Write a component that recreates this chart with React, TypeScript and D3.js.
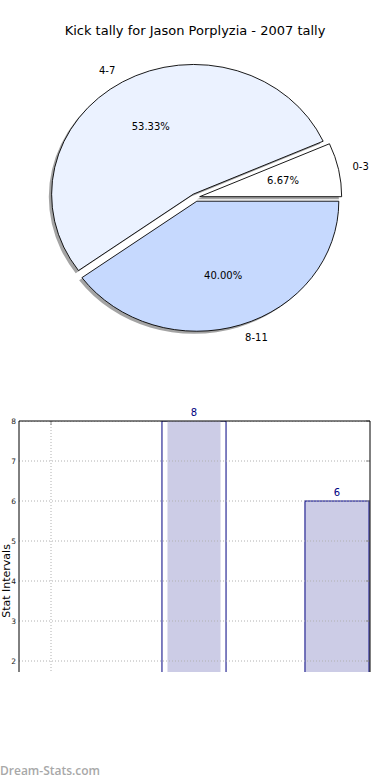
import React from 'react'
import * as d3 from 'd3'

// pie data
const sliceLabels = ['0-3', '4-7', '8-11']
const sliceValues = [1, 8, 6]
const sliceColors = ['#ffffff', '#ebf2ff', '#c6d9fe']

// bar data (first category value hidden below the visible part)
const barCats = [0, 1, 2]
const barValues = [1, 8, 6]
const yTicks = [2, 3, 4, 5, 6, 7, 8]
const xGridTicks = [0]

const font = 'DejaVu Sans, sans-serif'

const App = () => {
  const cx = 195.5
  const cy = 197.5
  const rx = 142
  const ry = 130
  const explode = 0.03

  const total = d3.sum(sliceValues)
  const pie = d3.pie<number>().sort(null).startAngle(Math.PI / 2).endAngle(Math.PI / 2 - 2 * Math.PI)
  const arcs = pie(sliceValues)
  const arc = d3.arc<any>().innerRadius(0).outerRadius(1)

  // bar chart scales
  const x = d3.scaleLinear().domain([0, 2]).range([51, 337])
  const y = d3.scaleLinear().domain([2, 8]).range([661, 421])
  const left = 19
  const right = 370
  const top = 421
  const bottom = 672
  const bw = x(0.448) - x(0)
  const maxIdx = barValues.indexOf(d3.max(barValues) as number)

  return (
    <svg width={390} height={780} style={{ position: 'absolute', left: 0, top: 0, background: '#fff' }}>
      <text x={195} y={35} textAnchor="middle" fontFamily={font} fontSize={13} fill="#000">
        Kick tally for Jason Porplyzia - 2007 tally
      </text>

      {/* shadows */}
      {arcs.map((a, i) => {
        const mid = (a.startAngle + a.endAngle) / 2
        const ox = cx + explode * rx * Math.sin(mid) - 2.8
        const oy = cy - explode * ry * Math.cos(mid) + 2.6
        return (
          <path key={'s' + i} d={arc(a) as string}
            transform={`translate(${ox},${oy}) scale(${rx},${ry})`}
            fill="#4a4a4a" opacity={0.5} />
        )
      })}
      {arcs.map((a, i) => {
        const mid = (a.startAngle + a.endAngle) / 2
        const ox = cx + explode * rx * Math.sin(mid)
        const oy = cy - explode * ry * Math.cos(mid)
        return (
          <path key={'p' + i} d={arc(a) as string}
            transform={`translate(${ox},${oy}) scale(${rx},${ry})`}
            fill={sliceColors[i]} stroke="#000" strokeWidth={0.9}
            vectorEffect="non-scaling-stroke" strokeLinejoin="miter" />
        )
      })}
      {arcs.map((a, i) => {
        const mid = (a.startAngle + a.endAngle) / 2
        const ox = cx + explode * rx * Math.sin(mid)
        const oy = cy - explode * ry * Math.cos(mid)
        const lx = ox + 1.1 * rx * Math.sin(mid)
        const ly = oy - 1.1 * ry * Math.cos(mid)
        const px = ox + 0.6 * rx * Math.sin(mid)
        const py = oy - 0.6 * ry * Math.cos(mid)
        return (
          <g key={'l' + i} fontFamily={font} fontSize={10} fill="#000">
            <text x={lx} y={ly} dy="0.35em" textAnchor={Math.sin(mid) < 0 ? 'end' : 'start'}>
              {sliceLabels[i]}
            </text>
            <text x={px} y={py} dy="0.35em" textAnchor="middle">
              {((sliceValues[i] / total) * 100).toFixed(2)}%
            </text>
          </g>
        )
      })}

      {/* bar chart */}
      <defs>
        <clipPath id="plot">
          <rect x={left} y={top} width={right - left} height={bottom - top} />
        </clipPath>
        <clipPath id="page">
          <rect x={0} y={390} width={390} height={bottom - 390 + 0.5} />
        </clipPath>
      </defs>
      <g clipPath="url(#plot)">
        {barCats.map((c, i) => {
          const x0 = x(c) - bw / 2
          const yt = y(barValues[i])
          const h = 800 - yt
          if (i === maxIdx) {
            return (
              <g key={'b' + i}>
                <rect x={x0} y={yt} width={bw} height={h} fill="#fff" stroke="#000080" strokeWidth={1} />
                <rect x={x0 + 5.5} y={yt} width={bw - 11} height={h} fill="#cccce6" />
              </g>
            )
          }
          return (
            <rect key={'b' + i} x={x0} y={yt} width={bw} height={h} fill="#cccce6" stroke="#000080" strokeWidth={1} />
          )
        })}
        {yTicks.map((t) => (
          <line key={'gy' + t} x1={left} x2={right} y1={y(t)} y2={y(t)}
            stroke="#b0b0b0" strokeWidth={1} strokeDasharray="1,2" />
        ))}
        {xGridTicks.map((t) => (
          <line key={'gx' + t} x1={x(t)} x2={x(t)} y1={top} y2={bottom}
            stroke="#b0b0b0" strokeWidth={1} strokeDasharray="1,2" />
        ))}
      </g>
      <g clipPath="url(#page)">
        {yTicks.map((t) => (
          <g key={'t' + t}>
            <line x1={right - 4} x2={right} y1={y(t)} y2={y(t)} stroke="#888" strokeWidth={1} />
            <text x={16} y={y(t)} dy="0.35em" textAnchor="end" fontFamily={font} fontSize={7.5} fill="#222">
              {t}
            </text>
          </g>
        ))}
        {xGridTicks.map((t) => (
          <line key={'tx' + t} x1={x(t)} x2={x(t)} y1={top} y2={top + 4} stroke="#888" strokeWidth={1} />
        ))}
        {barCats.map((c, i) => (
          <text key={'v' + i} x={x(c)} y={y(barValues[i]) - 5} textAnchor="middle"
            fontFamily={font} fontSize={10} fill="#000080">
            {barValues[i]}
          </text>
        ))}
        <line x1={left} x2={right} y1={top} y2={top} stroke="#000" strokeWidth={1} />
        <line x1={left} x2={left} y1={top} y2={bottom} stroke="#000" strokeWidth={1} />
        <line x1={right} x2={right} y1={top} y2={bottom} stroke="#000" strokeWidth={1} />
        <text transform={`translate(9.5,581) rotate(-90)`} textAnchor="middle"
          fontFamily={font} fontSize={11} fill="#000">
          Stat Intervals
        </text>
      </g>

      <text x={0} y={775} fontFamily="Open Sans, sans-serif" fontSize={12} fontWeight={600} fill="#a8a8a8">
        Dream-Stats.com
      </text>
    </svg>
  )
}

export default App
